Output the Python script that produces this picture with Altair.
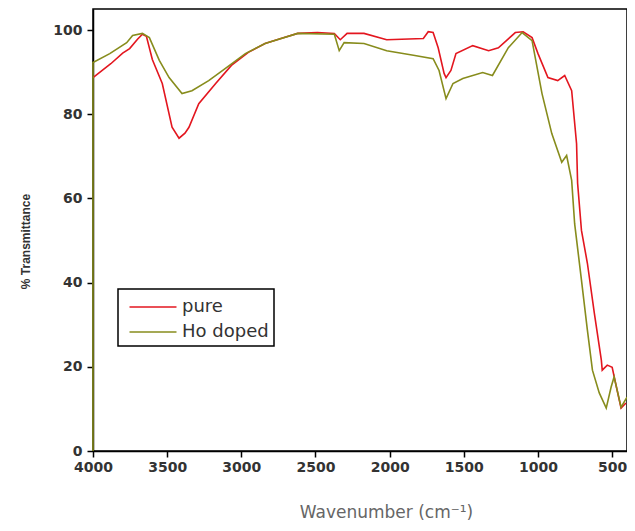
import altair as alt
import pandas as pd

# pure sample
pure_wn = [4000, 3880, 3800, 3753, 3700, 3667, 3640, 3600, 3533, 3467, 3420, 3380, 3353, 3287,
           3173, 3067, 2953, 2840, 2733, 2620, 2487, 2373, 2333, 2287, 2173, 2020, 1773, 1740,
           1707, 1673, 1633, 1620, 1587, 1553, 1440, 1333, 1267, 1153, 1100, 1040, 1000, 933,
           867, 820, 773, 740, 733, 707, 667, 620, 573, 567, 533, 500, 467, 440, 407]
pure_t = [88.7, 92.0, 94.5, 95.6, 97.8, 99.0, 98.5, 93.0, 87.3, 76.9, 74.3, 75.5, 76.9, 82.5,
          87.3, 91.6, 94.7, 96.8, 98.0, 99.2, 99.4, 99.2, 97.7, 99.2, 99.2, 97.7, 98.0, 99.6,
          99.4, 95.8, 89.7, 88.7, 90.4, 94.4, 96.3, 95.1, 95.8, 99.4, 99.6, 98.2, 94.4, 88.7,
          88.0, 89.2, 85.6, 73.0, 63.6, 52.4, 44.6, 32.7, 21.6, 19.2, 20.4, 19.9, 14.5, 10.2, 11.4]

# Ho doped sample
ho_wn = [4000, 4000, 3887, 3773, 3733, 3667, 3620, 3553, 3487, 3400, 3333, 3220, 3107, 2973,
         2840, 2620, 2373, 2340, 2307, 2173, 2020, 1840, 1707, 1667, 1620, 1573, 1507, 1373,
         1307, 1200, 1107, 1040, 973, 907, 840, 807, 773, 753, 707, 667, 633, 587, 540, 507,
         487, 440, 400]
ho_t = [0.0, 92.3, 94.4, 97.0, 98.7, 99.2, 98.2, 92.8, 88.7, 84.9, 85.6, 88.0, 90.9, 94.4,
        96.8, 99.2, 99.0, 95.1, 97.0, 96.8, 95.1, 94.0, 93.2, 90.4, 83.7, 87.3, 88.5, 89.9,
        89.2, 95.8, 99.4, 97.5, 84.9, 75.4, 68.6, 70.2, 64.3, 54.0, 40.6, 28.7, 19.2, 13.8,
        10.2, 15.2, 17.6, 10.4, 12.8]

series = ["pure", "Ho doped"]
colors = ["#e3161f", "#878c1c"]
x_ticks = [4000, 3500, 3000, 2500, 2000, 1500, 1000, 500]
y_ticks = [0, 20, 40, 60, 80, 100]

rows = []
for i, (w, t) in enumerate(zip(pure_wn, pure_t)):
    rows.append({"wn": w, "T": t, "sample": "pure", "idx": i})
for i, (w, t) in enumerate(zip(ho_wn, ho_t)):
    rows.append({"wn": w, "T": t, "sample": "Ho doped", "idx": i})
df = pd.DataFrame(rows)

chart = alt.Chart(df).mark_line(strokeWidth=1.6).encode(
    x=alt.X("wn:Q",
            scale=alt.Scale(domain=[4000, 400], nice=False, zero=False),
            axis=alt.Axis(values=x_ticks, format="d", title="Wavenumber (cm⁻¹)", grid=False,
                          labelFlush=False,
                          titleFont="DejaVu Sans", titleFontSize=17, titleFontWeight="normal",
                          titleColor="#666666", titleX=293, titleY=53,
                          titleAlign="center", titleBaseline="top")),
    y=alt.Y("T:Q",
            scale=alt.Scale(domain=[0, 105], nice=False),
            axis=alt.Axis(values=y_ticks, format="d", title="% Transmittance", grid=False,
                          titleFont="Liberation Sans", titleFontSize=12,
                          titleFontWeight="bold", titleColor="#333333",
                          titleX=-61, titleY=232, titleAlign="center", labelPadding=5)),
    color=alt.Color("sample:N",
                    scale=alt.Scale(domain=series, range=colors),
                    legend=alt.Legend(title=None, orient="none", legendX=25, legendY=280,
                                      symbolType="M-2,0H2", symbolSize=552,
                                      symbolOffset=17,
                                      symbolStrokeWidth=1.6, labelFontSize=18,
                                      labelFont="DejaVu Sans",
                                      labelExpr="datum.label + '  '",
                                      labelColor="#333333", strokeColor="black",
                                      padding=5, rowPadding=3, labelOffset=16,
                                      fillColor="white")),
    order="idx:Q",
).properties(
    width=534, height=442,
    padding={"left": 85, "top": 1, "right": 0, "bottom": 72},
    autosize=alt.AutoSizeParams(type="none"),
).configure_view(
    stroke="black", strokeWidth=1.5
).configure_axis(
    domainColor="black", domainWidth=1.5, tickColor="black", tickSize=6, tickWidth=1.5,
    labelFont="DejaVu Sans", labelFontSize=14, labelFontWeight="bold",
    labelColor="#333333", labelPadding=3
).configure_legend(
    strokeWidth=1.5
)

chart.save("out.html", embed_options={"renderer": "svg", "actions": False})
